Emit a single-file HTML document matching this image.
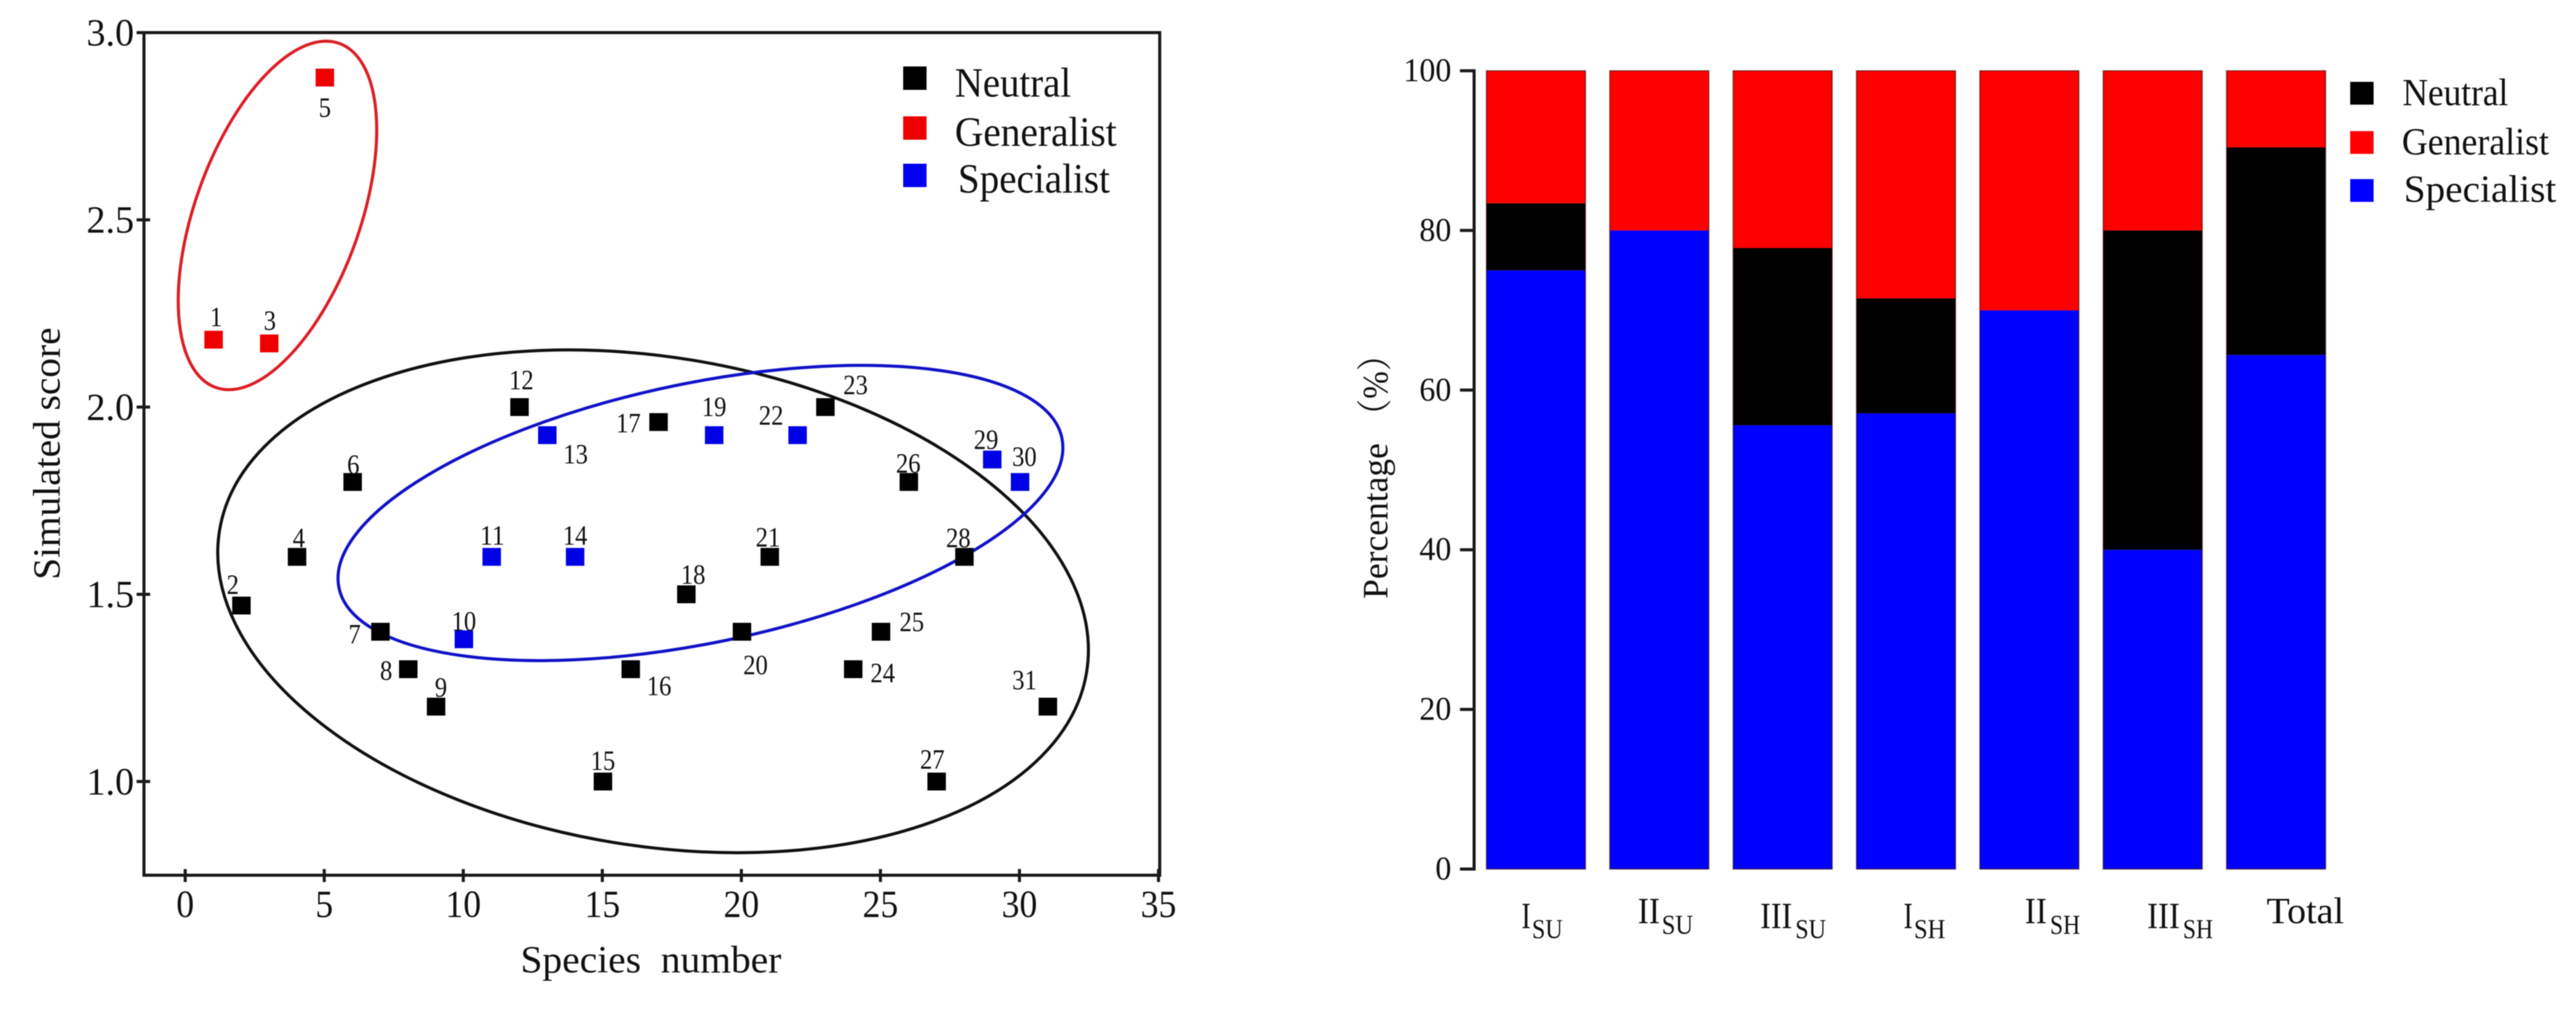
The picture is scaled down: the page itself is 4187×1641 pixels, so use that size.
<!DOCTYPE html>
<html lang="en">
<head>
<meta charset="utf-8">
<title>Species niche classification charts</title>
<style>
  html, body { margin: 0; padding: 0; background: #ffffff; }
  body { width: 4187px; height: 1641px; overflow: hidden; }
  svg { display: block; filter: blur(0.8px); }
  text { font-family: "Liberation Serif", "Noto Serif CJK SC", serif; fill: #111111; }
</style>
</head>
<body>
<svg id="figure" xmlns="http://www.w3.org/2000/svg" width="4187" height="1641" viewBox="0 0 4187 1641">
  <rect x="0" y="0" width="4187" height="1641" fill="#ffffff"/>

  <g id="scatter">
    <rect x="234" y="53" width="1651" height="1369" fill="none" stroke="#1a1a1a" stroke-width="5"/>
    <ellipse cx="451" cy="350" rx="297" ry="134" transform="rotate(-70.2 451 350)" fill="none" stroke="#dc1f26" stroke-width="5"/>
    <ellipse cx="1061.5" cy="977" rx="714" ry="397" transform="rotate(9.3 1061.5 977)" fill="none" stroke="#111111" stroke-width="5"/>
    <ellipse cx="1138.5" cy="833.5" rx="600" ry="211" transform="rotate(-11.7 1138.5 833.5)" fill="none" stroke="#1212c8" stroke-width="5"/>
    <text x="846" y="1580" font-size="62" textLength="424" lengthAdjust="spacingAndGlyphs" xml:space="preserve">Species  number</text>
    <text transform="translate(97 942) rotate(-90)" font-size="62" textLength="410" lengthAdjust="spacingAndGlyphs">Simulated score</text>

    <g>
      <rect x="1468" y="108" width="38" height="38" fill="#000000"/>
      <text x="1552" y="157" font-size="68" textLength="189" lengthAdjust="spacingAndGlyphs">Neutral</text>
      <rect x="1468" y="189" width="38" height="38" fill="#ee0000"/>
      <text x="1552" y="237" font-size="68" textLength="263" lengthAdjust="spacingAndGlyphs">Generalist</text>
      <rect x="1468" y="266" width="38" height="38" fill="#0000ee"/>
      <text x="1557" y="313" font-size="68" textLength="247" lengthAdjust="spacingAndGlyphs">Specialist</text>
    </g>
  </g>

  <g id="bars">
    <line x1="2396" y1="113" x2="2396" y2="1414" stroke="#1a1a1a" stroke-width="5"/>
    <text transform="translate(2255 973) rotate(-90)" font-size="58" textLength="253" lengthAdjust="spacingAndGlyphs">Percentage</text>
    <text transform="translate(2255 702) rotate(-90)" font-size="58" textLength="153" lengthAdjust="spacingAndGlyphs">（%）</text>

    <g>
      <rect x="3820" y="133" width="38" height="37" fill="#000000"/>
      <text x="3905" y="171" font-size="62" textLength="172" lengthAdjust="spacingAndGlyphs">Neutral</text>
      <rect x="3820" y="213" width="38" height="37" fill="#ff0000"/>
      <text x="3904" y="251" font-size="62" textLength="239" lengthAdjust="spacingAndGlyphs">Generalist</text>
      <rect x="3820" y="291" width="38" height="37" fill="#0000ff"/>
      <text x="3907" y="328" font-size="62" textLength="248" lengthAdjust="spacingAndGlyphs">Specialist</text>
    </g>

    <g>
      <text x="2473" y="1508" font-size="60" textLength="15" lengthAdjust="spacingAndGlyphs">I</text>
      <text x="2490" y="1524" font-size="44" textLength="50" lengthAdjust="spacingAndGlyphs">SU</text>
      <text x="2662" y="1500" font-size="60" textLength="36" lengthAdjust="spacingAndGlyphs">II</text>
      <text x="2701" y="1517" font-size="44" textLength="51" lengthAdjust="spacingAndGlyphs">SU</text>
      <text x="2861" y="1508" font-size="60" textLength="52" lengthAdjust="spacingAndGlyphs">III</text>
      <text x="2918" y="1524" font-size="44" textLength="50" lengthAdjust="spacingAndGlyphs">SU</text>
      <text x="3094" y="1508" font-size="60" textLength="15" lengthAdjust="spacingAndGlyphs">I</text>
      <text x="3111" y="1524" font-size="44" textLength="51" lengthAdjust="spacingAndGlyphs">SH</text>
      <text x="3291" y="1500" font-size="60" textLength="36" lengthAdjust="spacingAndGlyphs">II</text>
      <text x="3332" y="1517" font-size="44" textLength="49" lengthAdjust="spacingAndGlyphs">SH</text>
      <text x="3490" y="1508" font-size="60" textLength="53" lengthAdjust="spacingAndGlyphs">III</text>
      <text x="3548" y="1524" font-size="44" textLength="49" lengthAdjust="spacingAndGlyphs">SH</text>
      <text x="3684" y="1500" font-size="60" textLength="126" lengthAdjust="spacingAndGlyphs">Total</text>
    </g>
  </g>
</svg>

<script>
// Scatter chart data
const speciesNumbers = [1,2,3,4,5,6,7,8,9,10,11,12,13,14,15,16,17,18,19,20,21,22,23,24,25,26,27,28,29,30,31];
const simulatedScores = [2.18,1.47,2.17,1.6,2.88,1.8,1.4,1.3,1.2,1.38,1.6,2.0,1.925,1.6,1.0,1.3,1.96,1.5,1.925,1.4,1.6,1.925,2.0,1.3,1.4,1.8,1.0,1.6,1.86,1.8,1.2];
const speciesGroups = ["G","N","G","N","G","N","N","N","N","S","S","N","S","S","N","N","N","N","S","N","N","S","N","N","N","N","N","N","S","S","N"];
const xTickValues = [0,5,10,15,20,25,30,35];
const yTickValues = [1.0,1.5,2.0,2.5,3.0];

// Stacked bar chart data
const barCategories = ["I SU","II SU","III SU","I SH","II SH","III SH","Total"];
const specialistPercent = [75,80,55.6,57.1,70,40,64.4];
const neutralPercent = [8.4,0,22.2,14.4,0,40,26];
const generalistPercent = [16.6,20,22.2,28.5,30,20,9.6];
const percentTicks = [0,20,40,60,80,100];

const SVG_NS = 'http://www.w3.org/2000/svg';
const groupColors = { N: '#000000', G: '#ee0000', S: '#0000e6' };

// Label placement relative to each marker, keyed by species number
const labelNudge = {
  1:[4,-38],2:[-14,-35],3:[1,-38],4:[3,-32],5:[0,48],6:[1,-29],7:[-42,3],8:[-36,1],9:[8,-32],
  10:[0,-30],11:[1,-36],12:[3,-45],13:[46,30],14:[0,-36],15:[0,-35],16:[46,26],17:[-49,1],
  18:[11,-33],19:[0,-47],20:[22,53],21:[-3,-33],22:[-43,-33],23:[49,-37],24:[48,5],25:[50,-17],
  26:[-1,-31],27:[-7,-37],28:[-10,-32],29:[-10,-33],30:[7,-42],31:[-38,-44]
};

function xScatter(v) { return 302 + v * 45.2; }
function yScatter(v) { return 53 + (3 - v) * 608.4; }
function yBar(p) { return 1412 - p * 12.97; }
function xBar(i) { return 2416 + i * 200.5; }

function make(tag, parent, attrs, content) {
  const node = document.createElementNS(SVG_NS, tag);
  for (const key in attrs) { node.setAttribute(key, attrs[key]); }
  if (content !== undefined) { node.textContent = content; }
  parent.appendChild(node);
  return node;
}

const scatterRoot = document.getElementById('scatter');
const barsRoot = document.getElementById('bars');

// Scatter x ticks
xTickValues.forEach(function (v) {
  const tick = make('line', scatterRoot, { x1: xScatter(v) - 1, x2: xScatter(v) - 1, y1: 1412, y2: 1433, stroke: '#1a1a1a', 'stroke-width': 5 });
  
  
  const text = String(v);
  const label = make('text', scatterRoot, { x: xScatter(v) - 1, y: 1490, 'font-size': 62, 'text-anchor': 'middle', textLength: text.length * 29, lengthAdjust: 'spacingAndGlyphs' }, text);
  
  
});

// Scatter y ticks
yTickValues.forEach(function (v) {
  const tick = make('line', scatterRoot, { x1: 222, x2: 244, y1: yScatter(v), y2: yScatter(v), stroke: '#1a1a1a', 'stroke-width': 5 });
  
  
  const label = make('text', scatterRoot, { x: 218, y: yScatter(v) + 21, 'font-size': 62, 'text-anchor': 'end' }, v.toFixed(1));
  
  
});

// Scatter markers and number labels
speciesNumbers.forEach(function (n, i) {
  const cx = xScatter(n);
  const cy = yScatter(simulatedScores[i]);
  const marker = make('rect', scatterRoot, { x: cx - 15, y: cy - 14.5, width: 30, height: 29, fill: groupColors[speciesGroups[i]] });
  
  
  const nudge = labelNudge[n] || [0, -32];
  const text = String(n);
  const label = make('text', scatterRoot, { x: cx + nudge[0], y: cy + nudge[1] + 16, 'font-size': 46, 'text-anchor': 'middle', textLength: text.length * 20, lengthAdjust: 'spacingAndGlyphs' }, text);
  
  
});

// Bar y ticks
percentTicks.forEach(function (p) {
  const tick = make('line', barsRoot, { x1: 2373, x2: 2398, y1: yBar(p), y2: yBar(p), stroke: '#1a1a1a', 'stroke-width': 5 });
  
  
  const text = String(p);
  const label = make('text', barsRoot, { x: 2359, y: yBar(p) + 17, 'font-size': 54, 'text-anchor': 'end', textLength: text.length * 26, lengthAdjust: 'spacingAndGlyphs' }, text);
  
  
});

// Stacked bars: specialist at the bottom, then neutral, then generalist
barCategories.forEach(function (category, i) {
  const slug = category.toLowerCase().replace(' ', '-');
  const layers = [
    { name: 'specialist', value: specialistPercent[i], color: '#0000ff' },
    { name: 'neutral', value: neutralPercent[i], color: '#000000' },
    { name: 'generalist', value: generalistPercent[i], color: '#ff0000' }
  ];
  let base = 0;
  layers.forEach(function (layer) {
    const top = base + layer.value;
    if (layer.value > 0) {
      const bar = make('rect', barsRoot, { x: xBar(i), y: yBar(top), width: 161, height: yBar(base) - yBar(top), fill: layer.color });
      
      
    }
    base = top;
  });
  const outline = make('rect', barsRoot, { x: xBar(i), y: yBar(100), width: 161, height: yBar(0) - yBar(100), fill: 'none', stroke: '#300000', 'stroke-opacity': 0.55, 'stroke-width': 2 });
  
  
});
</script>
</body>
</html>
